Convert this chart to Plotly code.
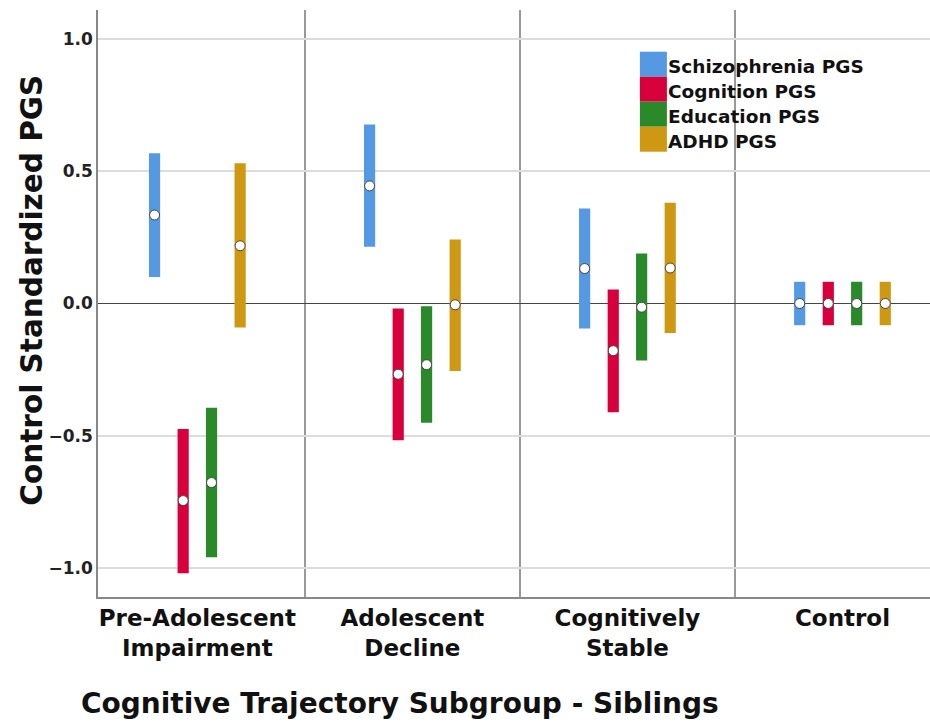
import plotly.graph_objects as go

categories = ["Pre-Adolescent<br>Impairment", "Adolescent<br>Decline", "Cognitively<br>Stable", "Control"]
series = ["Schizophrenia PGS", "Cognition PGS", "Education PGS", "ADHD PGS"]
colors = ["#5599E3", "#D8003C", "#2A8A2A", "#CF9813"]

schiz_mean = [0.334, 0.444, 0.132, 0.0]
schiz_lo = [0.100, 0.214, -0.094, -0.082]
schiz_hi = [0.567, 0.676, 0.359, 0.082]

cog_mean = [-0.744, -0.267, -0.178, 0.0]
cog_lo = [-1.018, -0.516, -0.411, -0.082]
cog_hi = [-0.474, -0.019, 0.053, 0.082]

edu_mean = [-0.676, -0.231, -0.014, 0.0]
edu_lo = [-0.958, -0.450, -0.215, -0.082]
edu_hi = [-0.394, -0.010, 0.189, 0.082]

adhd_mean = [0.218, -0.005, 0.134, 0.0]
adhd_lo = [-0.091, -0.255, -0.111, -0.082]
adhd_hi = [0.529, 0.242, 0.380, 0.082]

y_tickvals = [-1.0, -0.5, 0.0, 0.5, 1.0]

means = [schiz_mean, cog_mean, edu_mean, adhd_mean]
los = [schiz_lo, cog_lo, edu_lo, adhd_lo]
his = [schiz_hi, cog_hi, edu_hi, adhd_hi]
offsets = [-0.199, -0.066, 0.066, 0.199]

W, H = 930, 722
L, R, T, B = 98.3, 930.0, 10.0, 597.0


def px(x):
    return (x - L) / (R - L)


def py(y):
    return (B - y) / (B - T)


fig = go.Figure()
for i, name in enumerate(series):
    xs = [g + offsets[i] for g in range(len(categories))]
    fig.add_trace(go.Bar(
        x=xs, y=[h - l for h, l in zip(his[i], los[i])], base=los[i],
        width=0.052, marker=dict(color=colors[i], line=dict(width=0)),
        name=name, showlegend=False, hoverinfo="skip"))
for i, name in enumerate(series):
    xs = [g + offsets[i] for g in range(len(categories))]
    fig.add_trace(go.Scatter(
        x=xs, y=means[i], mode="markers", showlegend=False,
        marker=dict(color="white", size=10, line=dict(color="#444", width=1))))

bold = "DejaVu Sans"

fig.update_layout(
    width=W, height=H,
    margin=dict(l=L, r=W - R, t=T, b=H - B, autoexpand=False),
    paper_bgcolor="white", plot_bgcolor="white",
    barmode="overlay",
    xaxis=dict(
        range=[-0.462, 3.407], tickvals=list(range(len(categories))), ticktext=categories,
        showgrid=False, zeroline=False, showline=True, linecolor="#888", linewidth=1.5,
        ticks="", tickfont=dict(family=bold, size=23, color="#111", weight="bold"),
        minor=dict(tickvals=[0.5, 1.5, 2.5], showgrid=True, gridcolor="#999", gridwidth=1.5, ticks=""),
    ),
    yaxis=dict(
        range=[-1.108, 1.108], tickvals=y_tickvals, tickformat=".1f",
        showgrid=True, gridcolor="#dcdcdc", gridwidth=1.5,
        zeroline=True, zerolinecolor="#444", zerolinewidth=1.2,
        showline=True, linecolor="#888", linewidth=1.5, ticks="",
        tickfont=dict(family=bold, size=17, color="#222", weight="bold"),
    ),
)

# Legend drawn as swatches + labels
row_h = 25
for i, name in enumerate(series):
    y0 = 51.7 + i * row_h
    fig.add_shape(type="rect", xref="paper", yref="paper",
                  x0=px(640), x1=px(667), y0=py(y0 + row_h), y1=py(y0),
                  fillcolor=colors[i], line=dict(width=0), layer="above")
    fig.add_annotation(xref="paper", yref="paper", x=px(666), y=py(y0 + row_h / 2 + 2),
                       text=name, showarrow=False, xanchor="left", yanchor="middle",
                       font=dict(family=bold, size=18.5, color="#111", weight="bold"))

fig.add_annotation(xref="paper", yref="paper", x=px(32), y=py(290),
                   text="Control Standardized PGS", textangle=-90, showarrow=False,
                   xanchor="center", yanchor="middle",
                   font=dict(family=bold, size=29.5, color="#111", weight="bold"))
fig.add_annotation(xref="paper", yref="paper", x=px(79), y=py(703),
                   text="Cognitive Trajectory Subgroup - Siblings", showarrow=False,
                   xanchor="left", yanchor="middle",
                   font=dict(family=bold, size=28, color="#111", weight="bold"))

fig.write_html(
    "out.html",
    config={"displayModeBar": False},
    post_script="document.body.style.margin='0';document.body.style.overflow='hidden';"
                "document.documentElement.style.overflow='hidden';",
)
